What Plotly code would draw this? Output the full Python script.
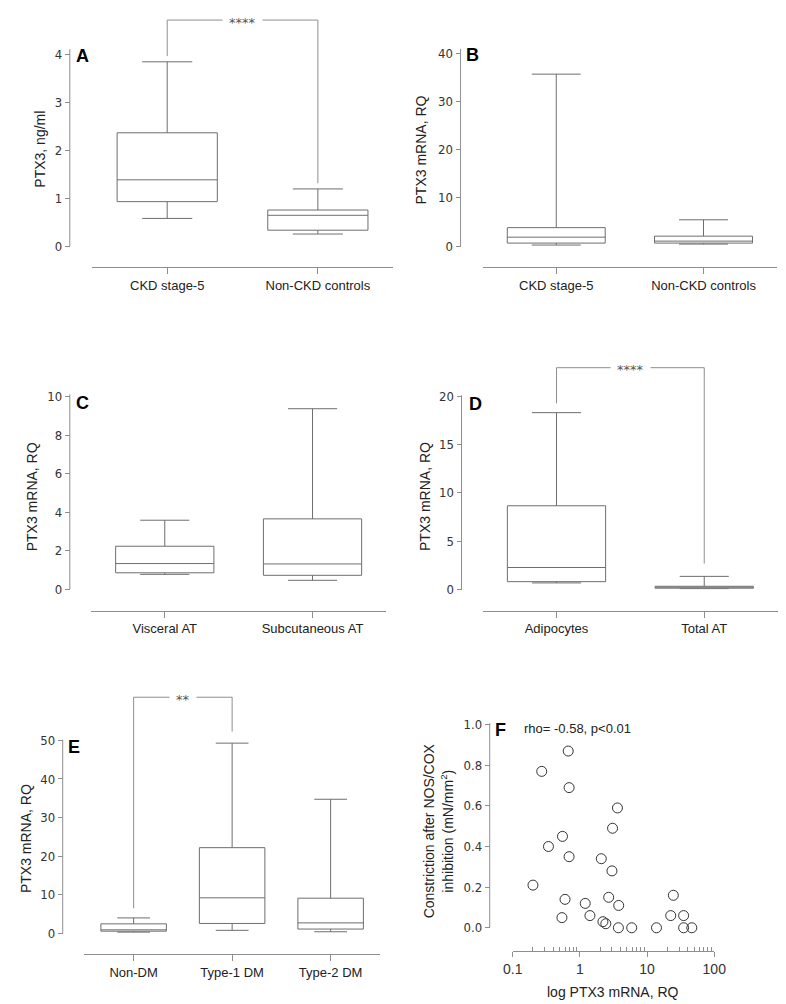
import plotly.graph_objects as go

W, H = 786, 1004

# ---------------- data ----------------
# Panel A: PTX3, ng/ml
a_cats = ["CKD stage-5", "Non-CKD controls"]
a_low = [0.575, 0.25]
a_q1 = [0.925, 0.33]
a_med = [1.38, 0.64]
a_q3 = [2.36, 0.75]
a_high = [3.84, 1.19]

# Panel B: PTX3 mRNA, RQ
b_cats = ["CKD stage-5", "Non-CKD controls"]
b_low = [0.2, 0.4]
b_q1 = [0.61, 0.61]
b_med = [1.84, 1.02]
b_q3 = [3.82, 2.05]
b_high = [35.7, 5.45]

# Panel C
c_cats = ["Visceral AT", "Subcutaneous AT"]
c_low = [0.77, 0.46]
c_q1 = [0.85, 0.72]
c_med = [1.33, 1.31]
c_q3 = [2.23, 3.65]
c_high = [3.58, 9.37]

# Panel D
d_cats = ["Adipocytes", "Total AT"]
d_low = [0.65, 0.03]
d_q1 = [0.78, 0.1]
d_med = [2.25, 0.2]
d_q3 = [8.66, 0.3]
d_high = [18.33, 1.33]

# Panel E
e_cats = ["Non-DM", "Type-1 DM", "Type-2 DM"]
e_low = [0.3, 0.77, 0.4]
e_q1 = [0.55, 2.55, 1.1]
e_med = [0.9, 9.2, 2.7]
e_q3 = [2.45, 22.2, 9.1]
e_high = [3.99, 49.3, 34.75]

# Panel F: scatter
f_x = [0.67, 0.27, 0.69, 3.62, 3.06, 0.55, 0.34, 0.69, 2.08, 3.0, 0.20, 24.6, 0.60, 2.68,
       1.2, 3.78, 0.54, 1.41, 2.2, 2.43, 3.74, 5.9, 13.8, 22.5, 35.0, 35.0, 46.3]
f_y = [0.87, 0.77, 0.69, 0.59, 0.49, 0.45, 0.40, 0.35, 0.34, 0.28, 0.21, 0.16, 0.14, 0.15,
       0.12, 0.11, 0.05, 0.06, 0.03, 0.02, 0.0, 0.0, 0.0, 0.06, 0.06, 0.0, 0.0]
f_xticks = [0.1, 1, 10, 100]
f_xticktext = ["0.1", "1", "10", "100"]
f_minor = [0.2, 0.3, 0.4, 0.5, 0.6, 0.7, 0.8, 0.9, 2, 3, 4, 5, 6, 7, 8, 9,
           20, 30, 40, 50, 60, 70, 80, 90]

# significance brackets: (panel, left idx, right idx, line value, left bottom, right bottom, label)
brackets = [
    ("A", 0, 1, 4.71, 3.96, 1.31, "****"),
    ("D", 0, 1, 23.0, 19.3, 2.66, "****"),
    ("E", 0, 1, 61.2, 6.5, 52.3, "**"),
]

# ---------------- styling / layout (pixels) ----------------
BOX_C = "#6e6e6e"
AX_C = "#8e8e8e"
TICKFONT = dict(family="DejaVu Sans Condensed, DejaVu Sans", size=13, color="#333333")
CATFONT = dict(family="Liberation Sans, Arial", size=13, color="#222222")
TITLEFONT = dict(family="Liberation Sans, Arial", size=14, color="#222222")

# yaxis x, xdomain, y of value 0, (px of ref tick, ref tick value), domain top, xaxis line y, spine top, tickvals
panels = {
    "A": dict(ax="", yx=53.3, xd=(76, 386), y0=235.3, ref=(40.7, 4), dtop=2, xl=257, spine=4.1,
              ticks=[0, 1, 2, 3, 4], cats=a_cats, stats=(a_low, a_q1, a_med, a_q3, a_high),
              ytitle="PTX3, ng/ml", tpos=(21.7, 137.5), lpos=(66.3, 42.2)),
    "B": dict(ax="2", yx=455.3, xd=(478, 781), y0=235.3, ref=(40, 40), dtop=35, xl=257, spine=41.0,
              ticks=[0, 10, 20, 30, 40], cats=b_cats, stats=(b_low, b_q1, b_med, b_q3, b_high),
              ytitle="PTX3 mRNA, RQ", tpos=(414.7, 138.3), lpos=(467.7, 42)),
    "C": dict(ax="3", yx=53.3, xd=(75, 379), y0=583.3, ref=(388, 10), dtop=385, xl=605.3, spine=10.12,
              ticks=[0, 2, 4, 6, 8, 10], cats=c_cats, stats=(c_low, c_q1, c_med, c_q3, c_high),
              ytitle="PTX3 mRNA, RQ", tpos=(14, 489.5), lpos=(66, 394.5)),
    "D": dict(ax="4", yx=456.3, xd=(478, 782), y0=583.3, ref=(388, 20), dtop=350, xl=605.3, spine=20.14,
              ticks=[0, 5, 10, 15, 20], cats=d_cats, stats=(d_low, d_q1, d_med, d_q3, d_high),
              ytitle="PTX3 mRNA, RQ", tpos=(418, 489.5), lpos=(470.3, 395.8)),
    "E": dict(ax="5", yx=46, xd=(68.3, 372.3), y0=932.3, ref=(736.7, 50), dtop=685, xl=953.3, spine=50.2,
              ticks=[0, 10, 20, 30, 40, 50], cats=e_cats, stats=(e_low, e_q1, e_med, e_q3, e_high),
              ytitle="PTX3 mRNA, RQ", tpos=(8.3, 836.7), lpos=(57.8, 743.3)),
}

fig = go.Figure()
layout = dict(width=W, height=H, margin=dict(l=0, r=0, t=0, b=0), autosize=False,
              paper_bgcolor="white", plot_bgcolor="white", showlegend=False)
shapes, annotations = [], []


def px_x(x):
    return x / W


def px_y(y):
    return 1 - y / H


for key, p in panels.items():
    ax = p["ax"]
    unit = (p["y0"] - p["ref"][0]) / p["ref"][1]
    rmax = (p["y0"] - p["dtop"]) / unit
    low, q1, med, q3, high = p["stats"]
    fig.add_trace(go.Box(
        x=p["cats"], lowerfence=low, q1=q1, median=med, q3=q3, upperfence=high,
        xaxis="x" + ax, yaxis="y" + ax, width=0.665, whiskerwidth=0.5,
        line=dict(color=BOX_C, width=1), fillcolor="rgba(0,0,0,0)",
        boxpoints=False, hoverinfo="y",
    ))
    n = len(p["cats"])
    layout["xaxis" + ax] = dict(
        domain=[px_x(p["xd"][0]), px_x(p["xd"][1])], anchor="free", position=px_y(p["xl"]),
        type="category", range=[-0.5, n - 0.5], showline=True, linecolor=AX_C, linewidth=1,
        ticks="outside", ticklen=6, tickcolor=AX_C, tickfont=CATFONT, showgrid=False,
        zeroline=False, fixedrange=True,
    )
    layout["yaxis" + ax] = dict(
        domain=[px_y(p["y0"]), px_y(p["dtop"])], anchor="free", position=px_x(p["yx"]),
        range=[0, rmax], showline=False, ticks="outside", ticklen=5, tickcolor=AX_C,
        tickvals=p["ticks"], tickfont=TICKFONT, showgrid=False, zeroline=False, fixedrange=True,
    )
    # y spine (axis line ending at spine top)
    shapes.append(dict(type="line", xref="paper", yref="y" + ax,
                       x0=px_x(p["yx"]), x1=px_x(p["yx"]), y0=0, y1=p["spine"],
                       line=dict(color=AX_C, width=1)))
    annotations.append(dict(text=p["ytitle"], xref="paper", yref="paper",
                            x=px_x(p["tpos"][0]), y=px_y(p["tpos"][1]), textangle=-90,
                            showarrow=False, xanchor="center", yanchor="middle", font=TITLEFONT))
    annotations.append(dict(text="<b>%s</b>" % key, xref="paper", yref="paper",
                            x=px_x(p["lpos"][0]), y=px_y(p["lpos"][1]), showarrow=False,
                            xanchor="center", yanchor="middle",
                            font=dict(family="Liberation Sans, Arial", size=18, color="black")))

for key, i, j, yl, bi, bj, lab in brackets:
    ax = panels[key]["ax"]
    xr, yr = "x" + ax, "y" + ax
    ln = dict(color=AX_C, width=1)
    shapes.append(dict(type="line", xref=xr, yref=yr, x0=i, x1=i, y0=bi, y1=yl, line=ln))
    shapes.append(dict(type="line", xref=xr, yref=yr, x0=j, x1=j, y0=bj, y1=yl, line=ln))
    shapes.append(dict(type="line", xref=xr, yref=yr, x0=i, x1=j, y0=yl, y1=yl, line=ln))
    annotations.append(dict(text=lab, xref=xr, yref=yr, x=(i + j) / 2, y=yl, showarrow=False,
                            xanchor="center", yanchor="middle", bgcolor="white", borderpad=6,
                            yshift=-2,
                            font=dict(family="DejaVu Sans", size=13, color="#555555")))

# ---------------- Panel F ----------------
F = dict(yx=485.3, xd=(509, 716.3), y0=926.7, ref=(720.7, 1.0), dtop=719, xl=950, spine=1.007)
unitF = (F["y0"] - F["ref"][0]) / F["ref"][1]
fig.add_trace(go.Scatter(
    x=f_x, y=f_y, mode="markers", xaxis="x6", yaxis="y6", cliponaxis=False,
    marker=dict(symbol="circle-open", size=10, color="#333333", line=dict(width=1, color="#333333")),
))
layout["xaxis6"] = dict(
    domain=[px_x(F["xd"][0]), px_x(F["xd"][1])], anchor="free", position=px_y(F["xl"]),
    type="log", range=[-1, 2], showline=True, linecolor=AX_C, linewidth=1,
    tickmode="array", tickvals=f_xticks, ticktext=f_xticktext, ticks="outside", ticklen=5,
    tickcolor=AX_C, tickfont=dict(family="Liberation Sans, Arial", size=14, color="#333333"),
    minor=dict(tickmode="array", tickvals=f_minor, ticks="inside", ticklen=4, tickcolor=AX_C,
               showgrid=False),
    showgrid=False, zeroline=False, fixedrange=True,
)
layout["yaxis6"] = dict(
    domain=[px_y(F["y0"]), px_y(F["dtop"])], anchor="free", position=px_x(F["yx"]),
    range=[0, (F["y0"] - F["dtop"]) / unitF], showline=False, ticks="outside", ticklen=5,
    tickcolor=AX_C, tickvals=[0, 0.2, 0.4, 0.6, 0.8, 1.0], tickformat=".1f", tickfont=TICKFONT,
    showgrid=False, zeroline=False, fixedrange=True,
)
shapes.append(dict(type="line", xref="paper", yref="y6", x0=px_x(F["yx"]), x1=px_x(F["yx"]),
                   y0=0, y1=F["spine"], line=dict(color=AX_C, width=1)))
annotations.append(dict(text="Constriction after NOS/COX<br>inhibition (mN/mm<sup>2</sup>)",
                        xref="paper", yref="paper", x=px_x(433), y=px_y(828), textangle=-90,
                        showarrow=False, xanchor="center", yanchor="middle", font=TITLEFONT))
annotations.append(dict(text="log PTX3 mRNA, RQ", xref="paper", yref="paper",
                        x=px_x(612), y=px_y(991.7), showarrow=False, xanchor="center",
                        yanchor="middle", font=TITLEFONT))
annotations.append(dict(text="<b>F</b>", xref="paper", yref="paper", x=px_x(496.5), y=px_y(725.8),
                        showarrow=False, xanchor="center", yanchor="middle",
                        font=dict(family="Liberation Sans, Arial", size=18, color="black")))
annotations.append(dict(text="rho= -0.58, p<0.01", xref="paper", yref="paper", x=px_x(518),
                        y=px_y(725), showarrow=False, xanchor="left", yanchor="middle",
                        font=dict(family="Liberation Sans, Arial", size=13, color="#222222")))

layout["shapes"] = shapes
layout["annotations"] = annotations
fig.update_layout(**layout)
fig.write_html("out.html")
